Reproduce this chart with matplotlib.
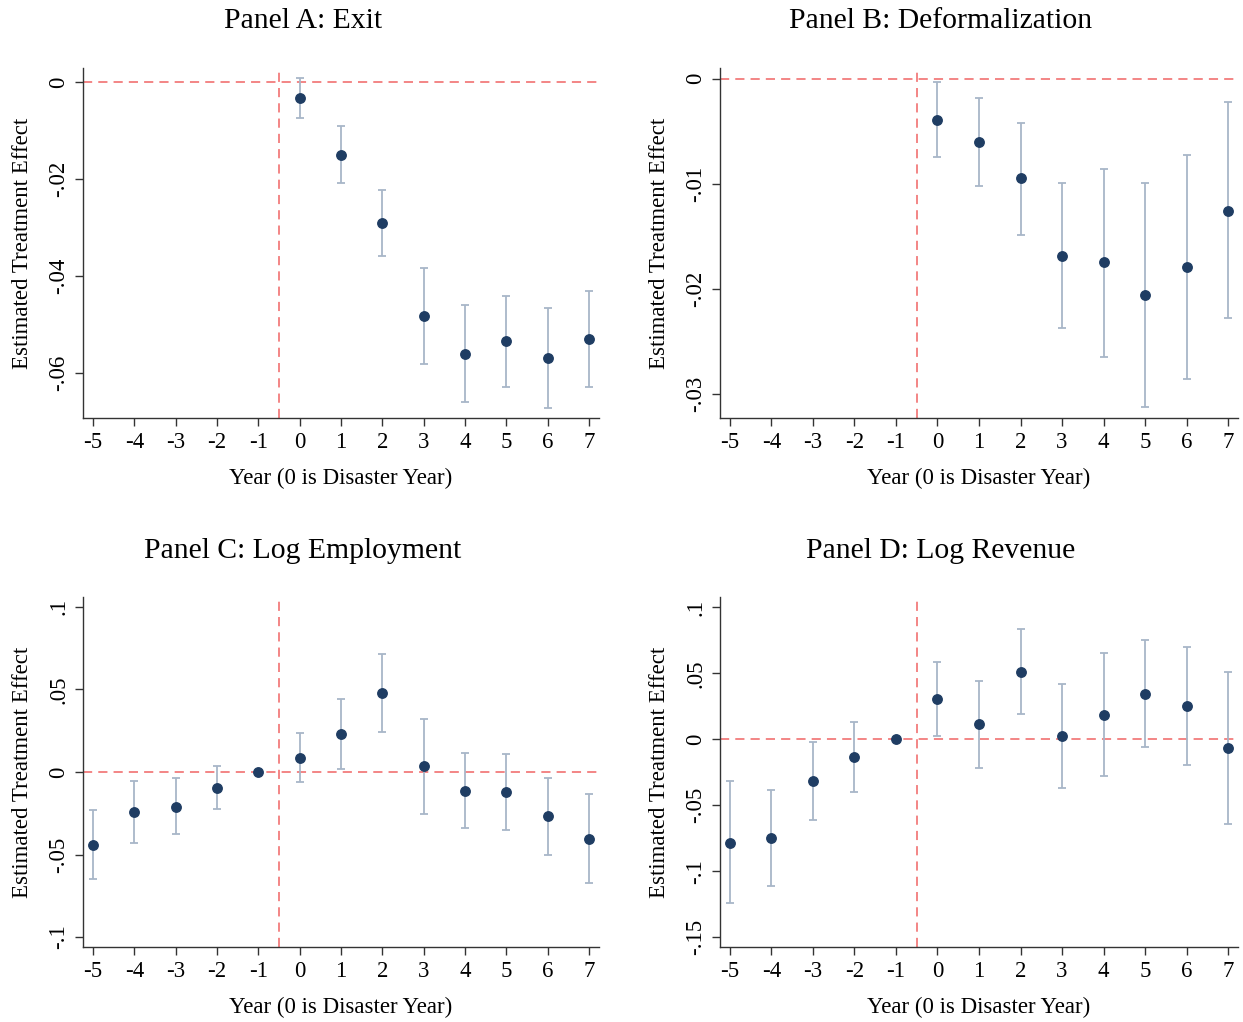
import numpy as np
import matplotlib
matplotlib.use('Agg')
import matplotlib.pyplot as plt

plt.rcParams['font.family'] = ['Liberation Serif', 'DejaVu Serif']

# Datos (estimación, IC superior, IC inferior)
years = [-5, -4, -3, -2, -1, 0, 1, 2, 3, 4, 5, 6, 7]

exit_years = [0, 1, 2, 3, 4, 5, 6, 7]
exit_est = [-0.0033, -0.0150, -0.0290, -0.0482, -0.0560, -0.0535, -0.0570, -0.0530]
exit_hi = [0.0009, -0.0091, -0.0222, -0.0383, -0.0460, -0.0441, -0.0467, -0.0430]
exit_lo = [-0.0075, -0.0209, -0.0358, -0.0581, -0.0660, -0.0629, -0.0673, -0.0630]

deform_years = [0, 1, 2, 3, 4, 5, 6, 7]
deform_est = [-0.0039, -0.0060, -0.0095, -0.0169, -0.0175, -0.0206, -0.0179, -0.0126]
deform_hi = [-0.0003, -0.0019, -0.0042, -0.0099, -0.0086, -0.0099, -0.0073, -0.0022]
deform_lo = [-0.0075, -0.0102, -0.0149, -0.0237, -0.0265, -0.0313, -0.0286, -0.0228]

emp_est = [-0.0443, -0.0242, -0.0209, -0.0095, 0.0, 0.0087, 0.0230, 0.0477,
           0.0034, -0.0115, -0.0123, -0.0268, -0.0403]
emp_hi = [-0.0232, -0.0056, -0.0038, 0.0036, np.nan, 0.0236, 0.0443, 0.0715,
          0.0324, 0.0113, 0.0109, -0.0036, -0.0133]
emp_lo = [-0.0651, -0.0429, -0.0377, -0.0224, np.nan, -0.0062, 0.0016, 0.0242,
          -0.0254, -0.0342, -0.0350, -0.0502, -0.0671]

rev_est = [-0.0786, -0.0750, -0.0315, -0.0133, 0.0, 0.0305, 0.0113, 0.0511,
           0.0023, 0.0184, 0.0345, 0.0249, -0.0065]
rev_hi = [-0.0317, -0.0388, -0.0018, 0.0133, np.nan, 0.0589, 0.0441, 0.0836,
          0.0418, 0.0652, 0.0753, 0.0697, 0.0511]
rev_lo = [-0.1244, -0.1110, -0.0609, -0.0398, np.nan, 0.0023, -0.0214, 0.0189,
          -0.0373, -0.0282, -0.0058, -0.0194, -0.0640]

W, H = 1243, 1022
navy = '#1f3d63'
ci_col = '#a8b6c8'
red = '#f06464'


def fmt(v):
    # Formato estilo Stata: -.02, .05, 0
    if abs(v) < 1e-12:
        return '0'
    s = ('%g' % v)
    return s.replace('0.', '.')


def panel(rect, title, title_x, title_y, x, est, hi, lo, ylim, yticks):
    ax = fig.add_axes([rect[0] / W, 1 - rect[3] / H,
                       (rect[2] - rect[0]) / W, (rect[3] - rect[1]) / H])
    est = np.array(est)
    hi = np.array(hi)
    lo = np.array(lo)
    ok = ~np.isnan(hi)
    ax.axhline(0, color=red, lw=1.1, dashes=(6, 4), zorder=1)
    ax.axvline(-0.5, color=red, lw=1.1, dashes=(6, 4), zorder=1)
    xs = np.array(x)
    ax.errorbar(xs[ok], est[ok], yerr=[est[ok] - lo[ok], hi[ok] - est[ok]],
                fmt='none', ecolor=ci_col, elinewidth=1.3, capsize=3.2,
                capthick=1.3, zorder=2)
    ax.plot(xs, est, 'o', color=navy, ms=6.8, zorder=3)
    ax.set_xlim(-5.24, 7.24)
    ax.set_ylim(*ylim)
    ax.set_xticks(years)
    ax.set_xticklabels([str(y) for y in years])
    ax.set_yticks(yticks)
    ax.set_yticklabels([fmt(v) for v in yticks], rotation=90, va='center')
    ax.spines['top'].set_visible(False)
    ax.spines['right'].set_visible(False)
    for s in ('left', 'bottom'):
        ax.spines[s].set_linewidth(1.0)
        ax.spines[s].set_color('#333333')
    ax.tick_params(axis='both', labelsize=16.5, length=6, width=1.0,
                   color='#333333', pad=4)
    ax.tick_params(axis='y', pad=4)
    ax.set_xlabel('Year (0 is Disaster Year)', fontsize=16.5, labelpad=11)
    ax.set_ylabel('Estimated Treatment Effect', fontsize=16.5, labelpad=11)
    fig.text(title_x / W, 1 - title_y / H, title, fontsize=21.3,
             ha='center', va='center')
    return ax


fig = plt.figure(figsize=(W / 100, H / 100), dpi=100)

panel((83, 68, 599, 418), 'Panel A: Exit', 303, 21,
      exit_years, exit_est, exit_hi, exit_lo,
      (-0.0693, 0.0029), [0, -0.02, -0.04, -0.06])
panel((720, 68, 1238, 418), 'Panel B: Deformalization', 941, 21,
      deform_years, deform_est, deform_hi, deform_lo,
      (-0.0323, 0.0010), [0, -0.01, -0.02, -0.03])
panel((83, 597, 599, 947), 'Panel C: Log Employment', 303, 551,
      years, emp_est, emp_hi, emp_lo,
      (-0.106, 0.106), [0.1, 0.05, 0, -0.05, -0.1])
panel((720, 597, 1238, 947), 'Panel D: Log Revenue', 941, 551,
      years, rev_est, rev_hi, rev_lo,
      (-0.1574, 0.1078), [0.1, 0.05, 0, -0.05, -0.1, -0.15])

fig.savefig('out.png', dpi=100, facecolor='white')
